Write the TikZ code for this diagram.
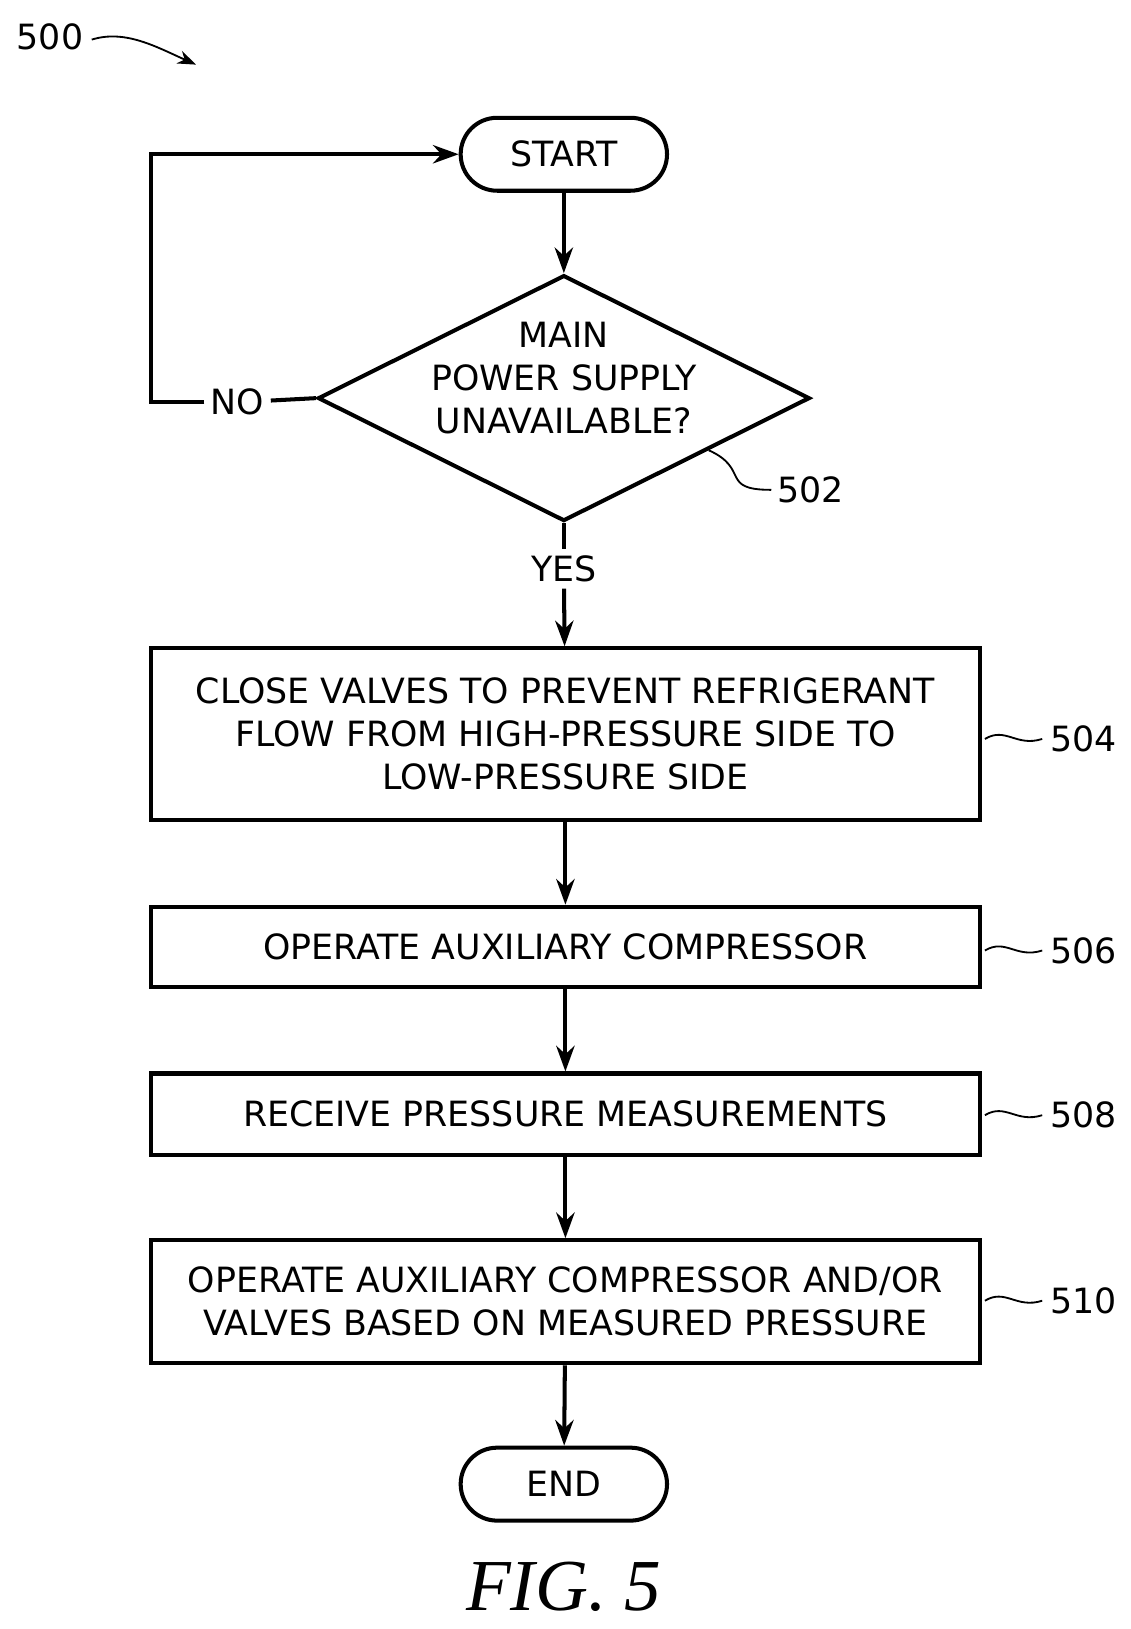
\documentclass[tikz,border=0pt]{standalone}
\usepackage{fontspec}
\setmainfont{DejaVu Sans}
\newfontfamily\figfont{Liberation Serif}
\usetikzlibrary{shapes.geometric,arrows.meta,decorations.pathmorphing}
\begin{document}
\begin{tikzpicture}[x=0.02cm,y=-0.02cm,
  every node/.style={font=\fontsize{19}{23.5}\selectfont},
  ln/.style={line width=2.2pt},
  arr/.style={ln,-{Stealth[length=14pt,width=10pt]}},
  box/.style={draw,ln,rectangle,minimum width=795*0.02cm,align=center,inner sep=0pt},
  term/.style={draw,ln,rounded corners=0.7cm,minimum width=198*0.02cm,minimum height=70*0.02cm,inner sep=0pt}]
\useasboundingbox (0,0) rectangle (1085,1563);
\node (n500) at (48,35) {500};
\coordinate (a500) at (188,62);
\draw[line width=1pt,-{Stealth[length=10pt]}] (88,38) .. controls (120,28) and (150,45) .. (a500);
\node[term] (start) at (541,148) {START};
\node[draw,ln,diamond,minimum width=472*0.02cm,minimum height=236*0.02cm,aspect=2,inner sep=0pt] (d) at (541,382) {};
\node[align=center] at (541,363) {MAIN\\POWER SUPPLY\\UNAVAILABLE?};
\node (no) at (228,386) {NO};
\node (yes) at (541,546) {YES};
\node (l502) at (778,470) {502};
\draw[line width=1pt] (680,432) .. controls (720,450) and (690,470) .. (740,470);
\node[box,minimum height=165*0.02cm] (b504) at (542.5,704.5) {CLOSE VALVES TO PREVENT REFRIGERANT\\FLOW FROM HIGH-PRESSURE SIDE TO\\LOW-PRESSURE SIDE};
\node[box,minimum height=77*0.02cm] (b506) at (542.5,908.5) {OPERATE AUXILIARY COMPRESSOR};
\node[box,minimum height=78*0.02cm] (b508) at (542.5,1069) {RECEIVE PRESSURE MEASUREMENTS};
\node[box,minimum height=118*0.02cm] (b510) at (542.5,1249) {OPERATE AUXILIARY COMPRESSOR AND/OR\\VALVES BASED ON MEASURED PRESSURE};
\node[term] (end) at (541,1424) {END};
\node (l504) at (1040,709) {504};
\node (l506) at (1040,912) {506};
\node (l508) at (1040,1070) {508};
\node (l510) at (1040,1248) {510};
\foreach \y in {709,912,1070,1248}
  \draw[line width=1pt] (945,\y) .. controls (965,\y-12) and (975,\y+8) .. (1000,\y);
\node[font=\figfont\itshape\fontsize{40}{44}\selectfont] (fig) at (541,1522) {FIG. 5};
\draw[arr] (start) -- (d);
\draw[ln] (d.south) -- (yes);
\draw[arr] (yes) -- (b504);
\draw[arr] (b504) -- (b506);
\draw[arr] (b506) -- (b508);
\draw[arr] (b508) -- (b510);
\draw[arr] (b510) -- (end);
\draw[ln] (d.west) -- (no);
\draw[arr] (no.west) -| (145,148) -- (start.west);
\end{tikzpicture}
\end{document}
